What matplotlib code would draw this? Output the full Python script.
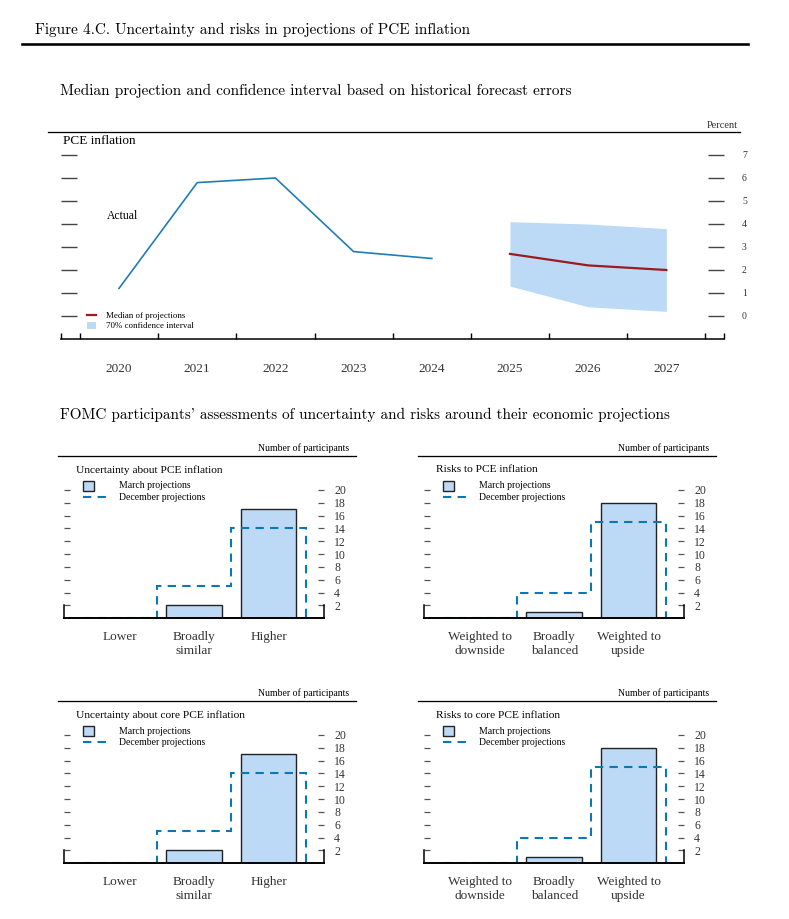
import numpy as np
import matplotlib
matplotlib.use("Agg")
import matplotlib.pyplot as plt
from matplotlib.lines import Line2D
from matplotlib.patches import Patch, Rectangle
from matplotlib.legend_handler import HandlerPatch

# ---- data ----
actual_years = [2020, 2021, 2022, 2023, 2024]
actual_pce = [1.2, 5.8, 6.0, 2.8, 2.5]
proj_years = [2025, 2026, 2027]
median_pce = [2.7, 2.2, 2.0]
ci_low = [1.3, 0.4, 0.2]
ci_high = [4.1, 4.0, 3.8]
all_years = list(range(2020, 2028))
pct_ticks = list(range(0, 8))

unc_cats = ["Lower", "Broadly\nsimilar", "Higher"]
risk_cats = ["Weighted to\ndownside", "Broadly\nbalanced", "Weighted to\nupside"]
unc_pce_march = [0, 2, 17]
unc_pce_dec = [0, 5, 14]
risk_pce_march = [0, 1, 18]
risk_pce_dec = [0, 4, 15]
unc_core_march = [0, 2, 17]
unc_core_dec = [0, 5, 14]
risk_core_march = [0, 1, 18]
risk_core_dec = [0, 4, 15]
count_ticks = list(range(2, 21, 2))

# colours
BLUE_LINE = "#1f7db5"
RED = "#9b1b1e"
FILL = "#bcdaf5"
DASH = "#0a78b4"
TXT = "#333333"
TICK = "#555555"

W, H = 789, 919
plt.rcParams["font.family"] = ["Liberation Serif", "DejaVu Serif"]
fig = plt.figure(figsize=(W / 100, H / 100), dpi=100)


def px_axes(x0, y0, x1, y1):
    return fig.add_axes([x0 / W, 1 - y1 / H, (x1 - x0) / W, (y1 - y0) / H])


def ftext(x, y, s, **kw):
    kw.setdefault("color", TXT)
    kw.setdefault("va", "center")
    return fig.text(x / W, 1 - y / H, s, **kw)


def hline(x0, x1, y, lw_px, color="black"):
    fig.add_artist(Line2D([x0 / W, x1 / W], [1 - y / H, 1 - y / H],
                          transform=fig.transFigure, color=color, lw=lw_px * 0.72))


# ---- headings ----
ftext(35, 30, "Figure 4.C. Uncertainty and risks in projections of PCE inflation",
      family=["cmr10", "DejaVu Serif"], fontsize=11, color="black")
hline(22, 748, 44, 2.6)
ftext(60, 91, "Median projection and confidence interval based on historical forecast errors",
      family=["cmr10", "DejaVu Serif"], fontsize=11, color="black")
ftext(60, 415, "FOMC participants' assessments of uncertainty and risks around their economic projections",
      family=["cmr10", "DejaVu Serif"], fontsize=10.9, color="black")

# ---- top chart: PCE inflation ----
hline(48, 740, 132, 1.3)
ftext(738, 126, "Percent", fontsize=7.5, ha="right")
ftext(63, 141, "PCE inflation", fontsize=9.5, color="black")

ax = px_axes(61, 132, 724, 339)
ax.set_xlim(2019.258, 2027.737)
ax.set_ylim(-1, 8)
ax.fill_between(proj_years, ci_low, ci_high, color=FILL, lw=0, label="70% confidence interval")
ax.plot(actual_years, actual_pce, color=BLUE_LINE, lw=1.2)
ax.plot(proj_years, median_pce, color=RED, lw=1.6, label="Median of projections")
ax.text(2019.84, 4.35, "Actual", fontsize=8.4, color="black", va="center")

for s in ["top", "left", "right"]:
    ax.spines[s].set_visible(False)
ax.spines["bottom"].set_linewidth(1.1)
ax.set_yticks(pct_ticks)
ax.tick_params(axis="y", which="both", direction="in", length=11.2,
               width=1.0, color="#444444", left=True, right=True,
               labelleft=False, labelright=True, labelsize=7, labelcolor=TXT, pad=13)
edge_ticks = [ax.get_xlim()[0]] + [y - 0.5 for y in all_years] + [2027.5, ax.get_xlim()[1]]
ax.set_xticks(edge_ticks)
ax.set_xticklabels([])
ax.tick_params(axis="x", which="major", direction="in", length=4.5, width=1.0, color="black")
ax.set_xticks(all_years, minor=True)
ax.set_xticklabels([str(y) for y in all_years], minor=True)
ax.tick_params(axis="x", which="minor", length=0, labelsize=9.5, labelcolor=TXT, pad=17)

handles, labels = ax.get_legend_handles_labels()
leg = ax.legend(handles[::-1], labels[::-1], loc="upper left",
                bbox_to_anchor=(87 / W, 1 - 311.5 / H), bbox_transform=fig.transFigure,
                frameon=False, fontsize=6.4, handlelength=1.0, handleheight=0.9,
                handletextpad=1.1, labelspacing=0.15, borderpad=0, borderaxespad=0)
for t in leg.get_texts():
    t.set_color("black")


# ---- bar panels ----
def square_patch(legend, orig_handle, xdescent, ydescent, width, height, fontsize):
    return Rectangle((-xdescent, -ydescent - 1.5), 11 * 0.72, 10 * 0.72)


def bar_panel(dx, dy, title, cats, march, dec):
    hline(58 + dx, 356 + dx, 455.7 + dy, 1.3)
    ftext(349 + dx, 448 + dy, "Number of participants", fontsize=7.0, ha="right", color="black")
    ftext(75.7 + dx, 470 + dy, title, fontsize=8.2, color="black")

    b = px_axes(64.3 + dx, 477.06 + dy, 324.3 + dx, 618.3 + dy)
    x = np.arange(len(cats))
    b.set_xlim(-0.75, 2.75)
    b.set_ylim(0, 22)
    b.bar(x, march, width=0.75, color=FILL, edgecolor="#222222", lw=1.0, zorder=2)
    b.stairs(dec, np.arange(len(cats) + 1) - 0.5, baseline=0, fill=False,
             color=DASH, lw=1.5, linestyle=(0, (4, 3)), zorder=3)
    b.spines["top"].set_visible(False)
    for s in ["left", "right"]:
        b.spines[s].set_bounds(0, 2)
        b.spines[s].set_linewidth(1.1)
    b.spines["bottom"].set_linewidth(1.4)
    b.spines["bottom"].set_zorder(5)
    b.set_yticks(count_ticks)
    b.tick_params(axis="y", direction="in", length=4.2, width=0.9, color=TICK,
                  left=True, right=True, labelleft=False, labelright=True,
                  labelsize=8.5, labelcolor=TXT, pad=7)
    b.set_xticks(x)
    b.set_xticklabels(cats)
    b.tick_params(axis="x", length=0, labelsize=9.5, labelcolor=TXT, pad=9.5)

    march_handle = Patch(facecolor=FILL, edgecolor="#222222", lw=1.0)
    dec_handle = Line2D([], [], color=DASH, lw=1.5, linestyle=(0, (4, 3)))
    lg = b.legend([march_handle, dec_handle], ["March projections", "December projections"],
                  loc="upper left",
                  bbox_to_anchor=((83 + dx) / W, 1 - (481.5 + dy) / H),
                  bbox_transform=fig.transFigure, frameon=False, fontsize=7,
                  handlelength=2.5, handletextpad=1.25, labelspacing=0.25,
                  borderpad=0, borderaxespad=0,
                  handler_map={Patch: HandlerPatch(patch_func=square_patch)})
    for t in lg.get_texts():
        t.set_color("black")
    return b


bar_panel(0, 0, "Uncertainty about PCE inflation", unc_cats, unc_pce_march, unc_pce_dec)
bar_panel(360, 0, "Risks to PCE inflation", risk_cats, risk_pce_march, risk_pce_dec)
bar_panel(0, 245, "Uncertainty about core PCE inflation", unc_cats, unc_core_march, unc_core_dec)
bar_panel(360, 245, "Risks to core PCE inflation", risk_cats, risk_core_march, risk_core_dec)

fig.savefig("out.png", dpi=100)
